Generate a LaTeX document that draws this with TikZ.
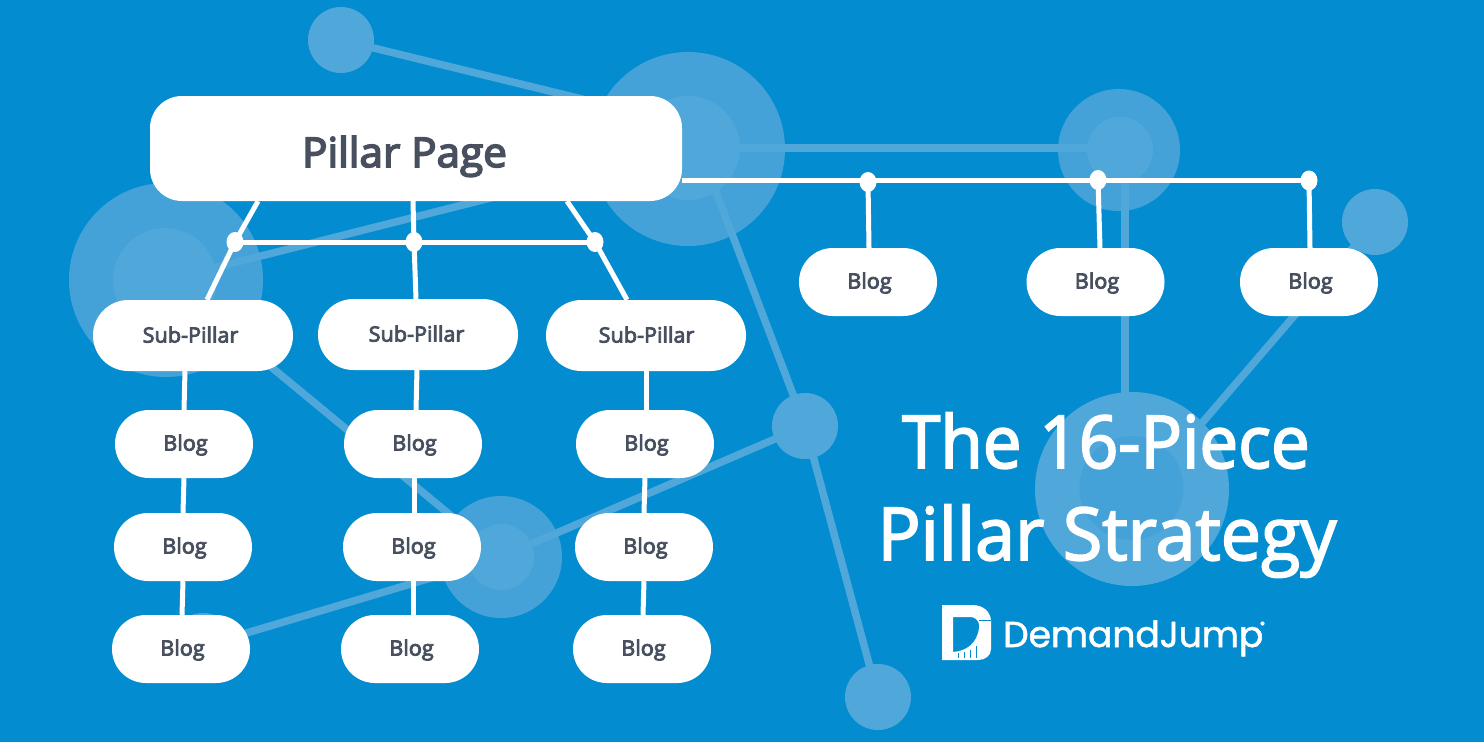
\documentclass[tikz,border=0pt]{standalone}
\usepackage{fontspec}
\setmainfont{Open Sans}
\newfontfamily\lblfont[FakeStretch=1.03,FakeBold=4]{Open Sans}
\newfontfamily\titlefonta[FakeStretch=0.945,FakeBold=2.5]{Open Sans}
\newfontfamily\titlefontb[FakeStretch=0.983,FakeBold=2.5]{Open Sans}
\newfontfamily\logofont[FakeBold=1.5]{Poppins}
\usetikzlibrary{shapes.geometric}
\definecolor{bgblue}{HTML}{038CD0}
\definecolor{halo}{HTML}{44A2D8}
\definecolor{core}{HTML}{4FA7DA}
\definecolor{ink}{HTML}{48505F}
\tikzset{
  x=1pt,y=-1pt,
  halodisc/.style={fill=halo,draw=none},
  coredisc/.style={fill=core,draw=none},
  faint/.style={draw=core,line width=7.5pt},
  wire/.style={draw=white,line width=5pt},
  jointdot/.style={fill=white,draw=none,ellipse,minimum width=17pt,minimum height=20pt,inner sep=0pt},
  pill/.style={fill=white,draw=none,text=ink,inner sep=0pt,font=\lblfont\fontsize{21}{24}\selectfont,text depth=0pt},
  blogbox/.style={pill,text height=13pt,minimum width=138pt,minimum height=68pt,rounded corners=33.9pt,execute at begin node=\hspace*{3pt}},
  subbox/.style={pill,text height=14pt,minimum width=200pt,minimum height=71pt,rounded corners=35.4pt},
  titletext/.style={text=white,inner sep=0pt,anchor=base},
}
\begin{document}
\begin{tikzpicture}
\useasboundingbox (0,0) rectangle (1484,742);
\fill[bgblue] (0,0) rectangle (1484,742);
% background network
\fill[halodisc] (688,149) circle (97);
\fill[halodisc] (1119,150) circle (61);
\fill[halodisc] (166,280) circle (97);
\fill[halodisc] (501,557) circle (61);
\fill[core] (1132,489) circle (97);
\coordinate (nA) at (341,40);
\coordinate (nAb) at (688,125);
\coordinate (nB) at (699,147);
\coordinate (nBc) at (688,148);
\coordinate (nC) at (1125,148);
\coordinate (nD) at (166,280);
\coordinate (nE) at (805,426);
\coordinate (nF) at (878,697);
\coordinate (nG) at (1375,222);
\coordinate (nH) at (1125,488);
\coordinate (nHc) at (1146,488);
\coordinate (nI) at (501,557);
\coordinate (nJ) at (203,646);
\draw[faint] (nA) -- (nAb);
\draw[faint] (nBc) -- (nC);
\draw[faint] (nBc) -- (nD);
\draw[faint] (nB) -- (nE);
\draw[faint] (nE) -- (nF);
\draw[faint] (nC) -- (nH);
\draw[faint] (nHc) -- (nG);
\draw[faint] (nD) -- (nI);
\draw[faint] (nI) -- (nE);
\draw[faint] (nI) -- (nJ);
\fill[coredisc] (nA) circle (33);
\fill[coredisc] (688,148) circle (52);
\fill[coredisc] (1120,150) circle (33);
\fill[coredisc] (165,280) circle (52);
\fill[coredisc] (nI) circle (33);
\fill[coredisc] (nE) circle (33);
\fill[coredisc] (nF) circle (33);
\fill[coredisc] (nG) circle (33);
\fill[coredisc] (nJ) circle (33);
\fill[halo] (1131.5,488) circle (52);
% white nodes
\node[fill=white,draw=none,text=ink,inner sep=0pt,minimum width=532pt,minimum height=105pt,rounded corners=32pt,font=\lblfont\fontsize{41}{46}\selectfont,text height=37pt,text depth=0pt] (pillar) at (416,148.5) {\hspace*{-23pt}Pillar Page};
\node[subbox] (s1) at (193,335.5) {\hspace*{-5pt}Sub-Pillar};
\node[subbox] (s2) at (418,334.5) {\hspace*{-3pt}Sub-Pillar};
\node[subbox] (s3) at (646,335.5) {\hspace*{1pt}Sub-Pillar};
\node[blogbox] (a1) at (184,444) {Blog};
\node[blogbox] (a2) at (183,547) {Blog};
\node[blogbox] (a3) at (181,649) {Blog};
\node[blogbox] (b1) at (413,444) {Blog};
\node[blogbox] (b2) at (412,547) {Blog};
\node[blogbox] (b3) at (410,649) {Blog};
\node[blogbox] (c1) at (645,444) {Blog};
\node[blogbox] (c2) at (644,547) {Blog};
\node[blogbox] (c3) at (642,649) {Blog};
\node[blogbox] (t1) at (868,282) {Blog};
\node[blogbox] (t2) at (1095.5,282) {Blog};
\node[blogbox] (t3) at (1309,282) {Blog};
% joints
\node[jointdot] (j1) at (235,242) {};
\node[jointdot] (j2) at (414,242) {};
\node[jointdot] (j3) at (595,242) {};
\node[jointdot] (k1) at (868,182) {};
\node[jointdot] (k2) at (1098,180) {};
\node[jointdot] (k3) at (1309,180.5) {};
% wires
\draw[wire] (pillar.east |- k2.center) -- (k2.center) -- (k3.center |- k2.center);
\draw[wire] (j1.center) -- (j2.center) -- (j3.center);
\draw[wire] ([xshift=-158pt]pillar.south) -- (j1.center) -- ([xshift=14pt]s1.north);
\draw[wire] ([xshift=-3pt]pillar.south) -- (j2.center) -- ([xshift=-2pt]s2.north);
\draw[wire] ([xshift=151pt]pillar.south) -- (j3.center) -- ([xshift=-19pt]s3.north);
\draw[wire] (k1.center) -- ([xshift=1pt]t1.north);
\draw[wire] (k2.center) -- ([xshift=4.5pt]t2.north);
\draw[wire] (k3.center) -- ([xshift=1pt]t3.north);
\draw[wire] ([xshift=-8pt]s1.south) -- (a1.north);
\draw[wire] (a1.south) -- (a2.north);
\draw[wire] (a2.south) -- ([xshift=1pt]a3.north);
\draw[wire] ([xshift=-1pt]s2.south) -- ([xshift=3pt]b1.north);
\draw[wire] ([xshift=1pt]b1.south) -- ([xshift=2pt]b2.north);
\draw[wire] ([xshift=1pt]b2.south) -- ([xshift=3pt]b3.north);
\draw[wire] (s3.south) -- ([xshift=1pt]c1.north);
\draw[wire] (c1.south) -- (c2.north);
\draw[wire] (c2.south) -- ([xshift=1pt]c3.north);
% title
\node[titletext,font=\titlefonta\fontsize{73}{80}\selectfont] (title1) at (1106,468) {The 16-Piece};
\node[titletext,font=\titlefontb\fontsize{73}{80}\selectfont] (title2) at (1107,560) {Pillar Strategy};
% logo
\fill[white,even odd rule]
  (942,605) -- (972,605) .. controls (984,605) and (990,612) .. (991,620) -- (991,649) .. controls (991,656) and (985,660) .. (978,660) -- (942,660) -- cycle
  (953,617) -- (953,652) .. controls (966,651) and (977,644) .. (979,628) -- (979,624) .. controls (978,620) and (975,617) .. (970,617) -- cycle;
\fill[bgblue] (957.6,653) rectangle (959,658);
\fill[bgblue] (963.6,652) rectangle (965,658);
\fill[bgblue] (969.6,650) rectangle (971,658);
\fill[bgblue] (975.6,646) rectangle (977,658);
\draw[bgblue,line width=0.6pt] (979,620.5) -- (991,620.5);
\node[text=white,inner sep=0pt,anchor=base west,font=\logofont\fontsize{36}{40}\selectfont] (logo) at (1003,647) {DemandJump};
\node[text=white,inner sep=0pt,anchor=base west,font=\logofont\fontsize{9}{10}\selectfont] (reg) at (1260,628) {®};
\end{tikzpicture}
\end{document}
